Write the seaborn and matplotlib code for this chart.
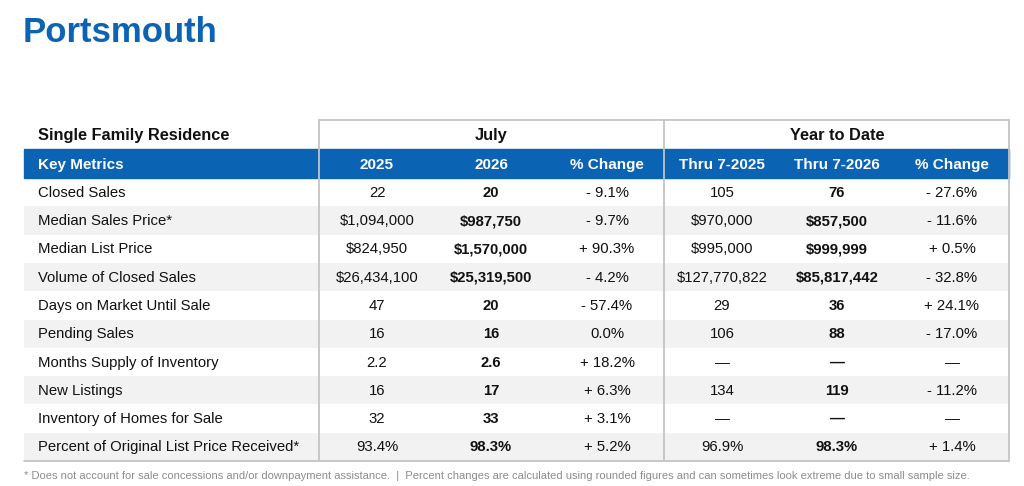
import numpy as np
import matplotlib
matplotlib.use("Agg")
import matplotlib.pyplot as plt
import seaborn as sns
from matplotlib.colors import ListedColormap
from matplotlib.patches import Rectangle

# --- table content ---
title = "Portsmouth"
section_label = "Single Family Residence"
group_labels = ["July", "Year to Date"]
col_headers = ["Key Metrics", "2025", "2026", "% Change", "Thru 7-2025", "Thru 7-2026", "% Change"]

metrics = [
    "Closed Sales", "Median Sales Price*", "Median List Price", "Volume of Closed Sales",
    "Days on Market Until Sale", "Pending Sales", "Months Supply of Inventory",
    "New Listings", "Inventory of Homes for Sale", "Percent of Original List Price Received*",
]
july_2025 = ["22", "$1,094,000", "$824,950", "$26,434,100", "47", "16", "2.2", "16", "32", "93.4%"]
july_2026 = ["20", "$987,750", "$1,570,000", "$25,319,500", "20", "16", "2.6", "17", "33", "98.3%"]
july_pct = ["- 9.1%", "- 9.7%", "+ 90.3%", "- 4.2%", "- 57.4%", "0.0%", "+ 18.2%", "+ 6.3%", "+ 3.1%", "+ 5.2%"]
ytd_2025 = ["105", "$970,000", "$995,000", "$127,770,822", "29", "106", "\u2014", "134", "\u2014", "96.9%"]
ytd_2026 = ["76", "$857,500", "$999,999", "$85,817,442", "36", "88", "\u2014", "119", "\u2014", "98.3%"]
ytd_pct = ["- 27.6%", "- 11.6%", "+ 0.5%", "- 32.8%", "+ 24.1%", "- 17.0%", "\u2014", "- 11.2%", "\u2014", "+ 1.4%"]

footnote = ("* Does not account for sale concessions and/or downpayment assistance.  |  "
            "Percent changes are calculated using rounded figures and can sometimes look extreme due to small sample size.")

BLUE = "#0b64b3"
GRID = "#c4c4c4"
BAND = "#f2f2f2"

sns.set_theme(style="white")
plt.rcParams["font.family"] = ["Liberation Sans", "DejaVu Sans"]

W, H = 1024, 486
LEFT, RIGHT = 24, 1009
SPLIT1, SPLIT2 = 319, 664
TOP, HEAD2, BODY_TOP, BODY_BOTTOM = 120, 149, 178, 461
col_x = [38, 377, 491, 607, 722, 837, 952]

fig = plt.figure(figsize=(W / 100, H / 100), dpi=100)

# background axes in pixel coordinates for title, headers, rules
bg = fig.add_axes([0, 0, 1, 1])
bg.set_xlim(0, W)
bg.set_ylim(H, 0)
bg.axis("off")
bg.set_zorder(2)

bg.text(LEFT - 1, 32, title, fontsize=25, fontweight="bold", color=BLUE, va="center")

head_y = (TOP + HEAD2) / 2
for x, lab, ha in [(col_x[0], section_label, "left"), (col_x[2], group_labels[0], "center"),
                   (col_x[5], group_labels[1], "center")]:
    bg.text(x, head_y + 1, lab, fontsize=11.8, fontweight="bold", color="#111111", va="center", ha=ha)

bg.add_patch(Rectangle((LEFT, HEAD2), RIGHT - LEFT, BODY_TOP - HEAD2, color=BLUE, zorder=0))
blue_y = (HEAD2 + BODY_TOP) / 2
for j, lab in enumerate(col_headers):
    bg.text(col_x[j], blue_y + 1, lab, fontsize=11, fontweight="bold", color="white",
            va="center", ha="left" if j == 0 else "center")

# body: banded rows drawn as a heatmap
body = fig.add_axes([LEFT / W, 1 - BODY_BOTTOM / H, (RIGHT - LEFT) / W, (BODY_BOTTOM - BODY_TOP) / H])
band = np.array([[i % 2] for i in range(len(metrics))])
sns.heatmap(band, ax=body, cmap=ListedColormap(["white", BAND]), vmin=0, vmax=1,
            cbar=False, xticklabels=False, yticklabels=False)
body.set_zorder(1)


def fx(px):
    return (px - LEFT) / (RIGHT - LEFT)


columns = [metrics, july_2025, july_2026, july_pct, ytd_2025, ytd_2026, ytd_pct]
for j, col in enumerate(columns):
    for i, val in enumerate(col):
        body.text(fx(col_x[j]), i + 0.52, val, fontsize=10.7, color="#111111", va="center",
                  ha="left" if j == 0 else "center",
                  fontweight="bold" if j in (2, 5) else "normal")

# rules
lw = 1.3
bg.plot([SPLIT1, RIGHT], [TOP, TOP], color=GRID, lw=lw)
bg.plot([LEFT, RIGHT], [BODY_BOTTOM, BODY_BOTTOM], color=GRID, lw=lw)
for x in (SPLIT1, SPLIT2, RIGHT):
    bg.plot([x, x], [TOP, BODY_BOTTOM], color=GRID, lw=lw)

bg.text(LEFT, 476, footnote, fontsize=8.05, color="#8c8c8c", va="center")

fig.savefig("out.png", dpi=100)
